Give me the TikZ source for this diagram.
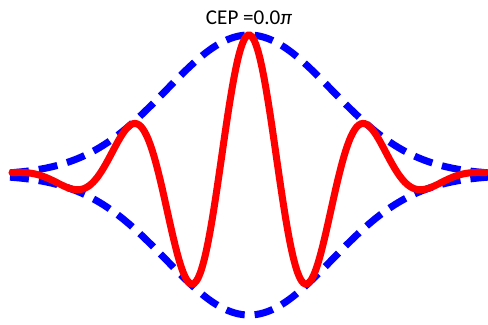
\documentclass[tikz,border=0pt]{standalone}
\usepackage{fontspec}
\setmainfont{Carlito}
\begin{document}
\begin{tikzpicture}[
    x=0.02cm, y=0.02cm,
    envelope/.style={blue, line width=4pt, dash pattern=on 0.38cm off 0.2cm},
    carrier/.style={red, line width=4pt, line cap=round},
    title/.style={font=\fontsize{12}{14}\selectfont}
]
\useasboundingbox (0,0) rectangle (488,325);

% Gaussian envelope (upper and lower)
\draw[envelope] plot[domain=-2.39:2.39, samples=160, smooth]
    ({249+100*\x}, {150+140*exp(-0.73*\x*\x)});
\draw[envelope] plot[domain=-2.39:2.39, samples=160, smooth]
    ({249+100*\x}, {150-140*exp(-0.73*\x*\x)});

% Carrier wave
\draw[carrier] plot[domain=-2.37:2.37, samples=240, smooth]
    ({249+100*\x}, {150+140*exp(-0.73*\x*\x)*cos(300*\x)});

% Title
\node[title] (cep) at (249,307) {CEP =0.0{\itshape π}};

\end{tikzpicture}
\end{document}
